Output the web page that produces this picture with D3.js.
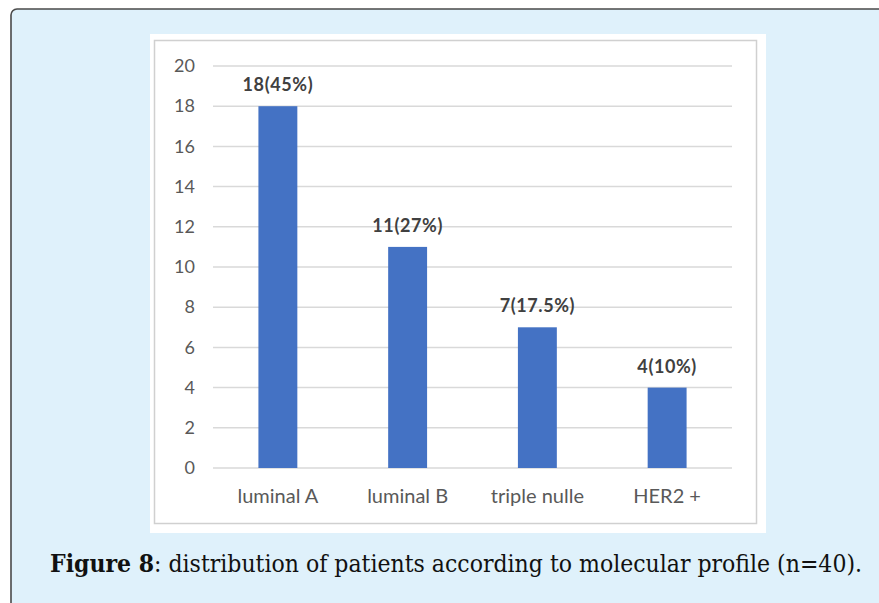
<!DOCTYPE html>
<html><head><meta charset="utf-8">
<script src="https://cdn.jsdelivr.net/npm/d3@7"></script>
<style>html,body{margin:0;padding:0;background:#fff;overflow:hidden;}</style>
</head><body>
<svg id="c" width="879" height="603"></svg>
<script>
const categories = ["luminal A", "luminal B", "triple nulle", "HER2 +"];
const values = [18, 11, 7, 4];
const valueLabels = ["18(45%)", "11(27%)", "7(17.5%)", "4(10%)"];
const yTicks = [0, 2, 4, 6, 8, 10, 12, 14, 16, 18, 20];
const captionBold = "Figure 8";
const captionRest = ": distribution of patients according to molecular profile (n=40).";

const svg = d3.select("#c");
svg.append("rect").attr("x", 11).attr("y", 9).attr("width", 900).attr("height", 620)
  .attr("rx", 6).attr("fill", "#dff1fb").attr("stroke", "#4a4a4a").attr("stroke-width", 1.6);
svg.append("rect").attr("x", 150).attr("y", 34).attr("width", 616).attr("height", 499).attr("fill", "#ffffff");
svg.append("rect").attr("x", 154.5).attr("y", 40.5).attr("width", 602).attr("height", 483)
  .attr("fill", "none").attr("stroke", "#d0d0d0").attr("stroke-width", 1.5);

const x = d3.scaleBand().domain(categories).range([213, 732]).paddingInner(0.7).paddingOuter(0.35);
const y = d3.scaleLinear().domain([0, 20]).range([468, 66]);

const font = "Lato, 'Open Sans', sans-serif";
svg.append("g").selectAll("line").data(yTicks).join("line")
  .attr("x1", 213).attr("x2", 732).attr("y1", d => y(d)).attr("y2", d => y(d))
  .attr("stroke", "#d9d9d9").attr("stroke-width", 1.5);

const yAxis = d3.axisLeft(y).tickValues(yTicks).tickSize(0).tickPadding(0);
const gy = svg.append("g").attr("transform", "translate(195,0)").call(yAxis);
gy.select(".domain").remove();
gy.selectAll("text").attr("font-family", font).attr("font-size", 18).attr("fill", "#595959");

svg.append("g").selectAll("rect").data(values).join("rect")
  .attr("x", (d, i) => x(categories[i])).attr("width", x.bandwidth())
  .attr("y", d => y(d)).attr("height", d => y(0) - y(d)).attr("fill", "#4472c4");

svg.append("g").selectAll("text").data(values).join("text")
  .attr("x", (d, i) => x(categories[i]) + x.bandwidth() / 2).attr("y", d => y(d) - 15)
  .attr("text-anchor", "middle").attr("font-family", font).attr("font-weight", "bold")
  .attr("font-size", 18).attr("letter-spacing", 0.6).attr("fill", "#404040").text((d, i) => valueLabels[i]);

const xAxis = d3.axisBottom(x).tickSize(0).tickPadding(0);
const gx = svg.append("g").attr("transform", "translate(0,503)").call(xAxis);
gx.select(".domain").remove();
gx.selectAll("text").attr("dy", 0).attr("font-family", font).attr("font-size", 20).attr("fill", "#595959");

const cap = svg.append("text").attr("x", 456).attr("y", 572).attr("text-anchor", "middle")
  .style("font-family", "'DejaVu Serif Condensed', 'DejaVu Serif', serif").attr("font-size", 25).attr("fill", "#111");
cap.append("tspan").attr("font-weight", "bold").text(captionBold);
cap.append("tspan").text(captionRest);
cap.attr("textLength", 812).attr("lengthAdjust", "spacingAndGlyphs");
</script>
</body></html>
